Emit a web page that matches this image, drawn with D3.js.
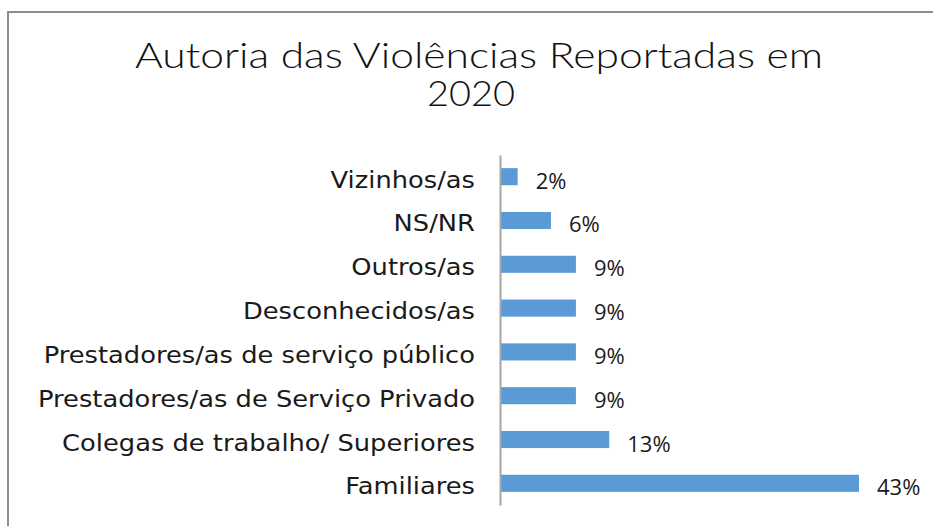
<!DOCTYPE html>
<html><head><meta charset="utf-8">
<script src="https://cdn.jsdelivr.net/npm/d3@7"></script>
<style>html,body{margin:0;padding:0;background:#fff;}svg{display:block;}</style>
</head><body>
<svg id="c" width="933" height="526"></svg>
<script>
const categories = ["Vizinhos/as","NS/NR","Outros/as","Desconhecidos/as","Prestadores/as de serviço público","Prestadores/as de Serviço Privado","Colegas de trabalho/ Superiores","Familiares"];
const values = [2, 6, 9, 9, 9, 9, 13, 43];
const valueLabels = ["2%","6%","9%","9%","9%","9%","13%","43%"];
const titleLines = ["Autoria das Violências Reportadas em", "2020"];

const svg = d3.select("#c");
// frame
svg.append("rect").attr("x",8).attr("y",12).attr("width",960).attr("height",560)
  .attr("fill","#fff").attr("stroke","#8c8c8c").attr("stroke-width",2);

const x0 = 501;
const x = d3.scaleLinear().domain([0, 43]).range([x0, 859]);
const y = d3.scaleBand().domain(categories).range([155, 505]).paddingInner(0.61).paddingOuter(0.3);

svg.selectAll("rect.bar").data(categories).enter().append("rect").attr("class","bar")
  .attr("x", x(0)).attr("y", d => y(d)).attr("height", y.bandwidth())
  .attr("width", (d,i) => x(values[i]) - x(0)).attr("fill","#5B9BD5");

// axis
const yAxis = d3.axisLeft(y).tickSize(0).tickPadding(25);
const ga = svg.append("g").attr("transform",`translate(${x0-1},0)`).call(yAxis);
ga.select(".domain").attr("stroke","#a6a6a6").attr("stroke-width",2);
const ticks = ga.selectAll(".tick text").attr("font-family","'DejaVu Sans',sans-serif")
  .attr("font-size",22.5).attr("fill","#1a1a1a").attr("dy",null).attr("y",11);
let maxW = 0;
ticks.each(function(){ maxW = Math.max(maxW, this.getComputedTextLength()); });
const ratio = 437 / maxW;
ticks.each(function(){ const w = this.getComputedTextLength(); d3.select(this).attr("textLength", w*ratio).attr("lengthAdjust","spacingAndGlyphs"); });

// value labels
svg.selectAll("text.val").data(categories).enter().append("text").attr("class","val")
  .attr("x",(d,i)=>x(values[i])+18).attr("y",d=>y(d)+y.bandwidth()/2+12)
  .attr("font-family","'Open Sans',sans-serif").attr("font-size",22).attr("fill","#1a1a1a")
  .text((d,i)=>valueLabels[i]);

// title
svg.append("text").attr("x",479).attr("y",67.5).attr("text-anchor","middle")
  .attr("font-family","'Lato',sans-serif").attr("font-size",35).attr("font-weight",300)
  .attr("fill","#111").attr("textLength",688).attr("lengthAdjust","spacingAndGlyphs").text(titleLines[0]);
svg.append("text").attr("x",471).attr("y",106).attr("text-anchor","middle")
  .attr("font-family","'Lato',sans-serif").attr("font-size",35).attr("font-weight",300)
  .attr("fill","#111").attr("textLength",88).attr("lengthAdjust","spacingAndGlyphs").text(titleLines[1]);
</script>
</body></html>
